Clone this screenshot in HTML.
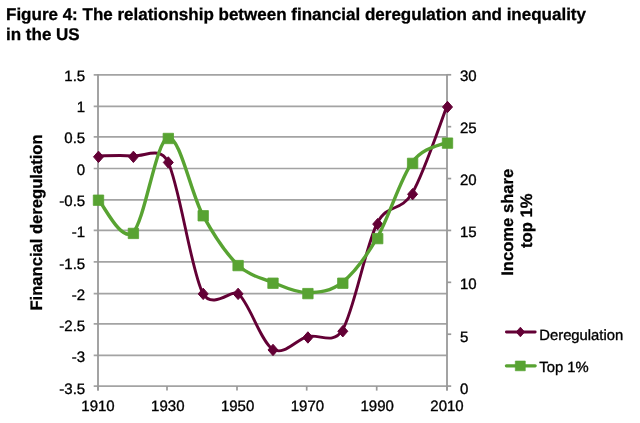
<!DOCTYPE html>
<html><head><meta charset="utf-8"><style>
html,body{margin:0;padding:0;background:#fff;width:640px;height:423px;overflow:hidden}
svg{display:block;text-rendering:geometricPrecision}
.t{font-family:"Liberation Sans",Arial,sans-serif;font-size:15px;fill:#000;stroke:#000;stroke-width:0.35px}
.b{font-family:"Liberation Sans",Arial,sans-serif;font-weight:bold;fill:#000;stroke:#000;stroke-width:0.3px}
.ti{font-size:17px}
.ax{font-size:16.6px}
</style></head><body>
<svg width="640" height="423" viewBox="0 0 640 423">
<rect width="640" height="423" fill="#fff"/>
<line x1="93.7" y1="74.80" x2="447" y2="74.80" stroke="#a3a3a3" stroke-width="1.7"/>
<line x1="93.7" y1="106.35" x2="447" y2="106.35" stroke="#a3a3a3" stroke-width="1.7"/>
<line x1="93.7" y1="136.80" x2="447" y2="136.80" stroke="#a3a3a3" stroke-width="1.7"/>
<line x1="93.7" y1="168.50" x2="447" y2="168.50" stroke="#a3a3a3" stroke-width="1.7"/>
<line x1="93.7" y1="199.80" x2="447" y2="199.80" stroke="#a3a3a3" stroke-width="1.7"/>
<line x1="93.7" y1="230.45" x2="447" y2="230.45" stroke="#a3a3a3" stroke-width="1.7"/>
<line x1="93.7" y1="261.95" x2="447" y2="261.95" stroke="#a3a3a3" stroke-width="1.7"/>
<line x1="93.7" y1="293.70" x2="447" y2="293.70" stroke="#a3a3a3" stroke-width="1.7"/>
<line x1="93.7" y1="323.80" x2="447" y2="323.80" stroke="#a3a3a3" stroke-width="1.7"/>
<line x1="93.7" y1="355.35" x2="447" y2="355.35" stroke="#a3a3a3" stroke-width="1.7"/>
<line x1="93.7" y1="386.10" x2="447" y2="386.10" stroke="#a3a3a3" stroke-width="1.7"/>
<line x1="447" y1="386.10" x2="451.2" y2="386.10" stroke="#999999" stroke-width="1.7"/>
<line x1="447" y1="334.22" x2="451.2" y2="334.22" stroke="#999999" stroke-width="1.7"/>
<line x1="447" y1="282.33" x2="451.2" y2="282.33" stroke="#999999" stroke-width="1.7"/>
<line x1="447" y1="230.45" x2="451.2" y2="230.45" stroke="#999999" stroke-width="1.7"/>
<line x1="447" y1="178.56" x2="451.2" y2="178.56" stroke="#999999" stroke-width="1.7"/>
<line x1="447" y1="126.68" x2="451.2" y2="126.68" stroke="#999999" stroke-width="1.7"/>
<line x1="447" y1="74.79" x2="451.2" y2="74.79" stroke="#999999" stroke-width="1.7"/>
<line x1="98.00" y1="386" x2="98.00" y2="390.6" stroke="#999999" stroke-width="1.7"/>
<line x1="167.00" y1="386" x2="167.00" y2="390.6" stroke="#999999" stroke-width="1.7"/>
<line x1="237.00" y1="386" x2="237.00" y2="390.6" stroke="#999999" stroke-width="1.7"/>
<line x1="306.70" y1="386" x2="306.70" y2="390.6" stroke="#999999" stroke-width="1.7"/>
<line x1="376.70" y1="386" x2="376.70" y2="390.6" stroke="#999999" stroke-width="1.7"/>
<line x1="447.00" y1="386" x2="447.00" y2="390.6" stroke="#999999" stroke-width="1.7"/>
<line x1="98" y1="74.2" x2="98" y2="390.6" stroke="#999999" stroke-width="1.8"/>
<line x1="447" y1="74.2" x2="447" y2="390.6" stroke="#999999" stroke-width="1.8"/>
<path d="M98.00,155.94 C103.82,155.94 121.27,155.01 132.90,155.94 C144.53,156.88 159.78,145.80 167.80,161.55 C179.43,184.39 191.07,271.07 202.70,292.98 C212.12,310.72 232.71,289.06 237.60,292.98 C249.23,302.32 260.87,341.77 272.50,349.04 C284.13,356.31 295.77,339.70 307.40,336.58 C319.03,333.47 333.01,345.45 342.30,330.35 C353.93,311.46 365.57,246.05 377.20,223.22 C387.63,202.74 400.47,212.83 412.10,193.32 C423.73,173.80 441.18,120.64 447.00,106.11" fill="none" stroke="#630035" stroke-width="2.9" stroke-linejoin="round" stroke-linecap="round"/>
<path d="M98.50,151.14 L103.50,156.84 L98.50,162.54 L93.50,156.84Z" fill="#630035" stroke="#630035" stroke-width="1" stroke-linejoin="round"/>
<path d="M133.40,151.14 L138.40,156.84 L133.40,162.54 L128.40,156.84Z" fill="#630035" stroke="#630035" stroke-width="1" stroke-linejoin="round"/>
<path d="M168.30,156.75 L173.30,162.45 L168.30,168.15 L163.30,162.45Z" fill="#630035" stroke="#630035" stroke-width="1" stroke-linejoin="round"/>
<path d="M203.20,288.18 L208.20,293.88 L203.20,299.58 L198.20,293.88Z" fill="#630035" stroke="#630035" stroke-width="1" stroke-linejoin="round"/>
<path d="M238.10,288.18 L243.10,293.88 L238.10,299.58 L233.10,293.88Z" fill="#630035" stroke="#630035" stroke-width="1" stroke-linejoin="round"/>
<path d="M273.00,344.24 L278.00,349.94 L273.00,355.64 L268.00,349.94Z" fill="#630035" stroke="#630035" stroke-width="1" stroke-linejoin="round"/>
<path d="M307.90,331.78 L312.90,337.48 L307.90,343.18 L302.90,337.48Z" fill="#630035" stroke="#630035" stroke-width="1" stroke-linejoin="round"/>
<path d="M342.80,325.55 L347.80,331.25 L342.80,336.95 L337.80,331.25Z" fill="#630035" stroke="#630035" stroke-width="1" stroke-linejoin="round"/>
<path d="M377.70,218.42 L382.70,224.12 L377.70,229.82 L372.70,224.12Z" fill="#630035" stroke="#630035" stroke-width="1" stroke-linejoin="round"/>
<path d="M412.60,188.52 L417.60,194.22 L412.60,199.92 L407.60,194.22Z" fill="#630035" stroke="#630035" stroke-width="1" stroke-linejoin="round"/>
<path d="M447.50,101.31 L452.50,107.01 L447.50,112.71 L442.50,107.01Z" fill="#630035" stroke="#630035" stroke-width="1" stroke-linejoin="round"/>
<path d="M98.00,199.31 C103.82,204.85 121.27,242.81 132.90,232.52 C144.53,222.23 156.17,140.51 167.80,137.57 C179.43,134.63 191.07,193.69 202.70,214.88 C214.33,236.07 225.97,253.45 237.60,264.69 C249.23,275.93 260.87,277.66 272.50,282.33 C284.13,287.00 295.77,292.71 307.40,292.71 C319.03,292.71 330.67,291.50 342.30,282.33 C353.93,273.16 365.57,257.68 377.20,237.71 C388.83,217.73 400.47,178.39 412.10,162.48 C423.73,146.56 441.18,145.61 447.00,142.24" fill="none" stroke="#58a332" stroke-width="3.4" stroke-linejoin="round" stroke-linecap="round"/>
<rect x="93.30" y="195.01" width="10.4" height="10.4" fill="#58a332" stroke="#58a332" stroke-width="0.8" stroke-linejoin="round"/>
<rect x="128.20" y="228.22" width="10.4" height="10.4" fill="#58a332" stroke="#58a332" stroke-width="0.8" stroke-linejoin="round"/>
<rect x="163.10" y="133.27" width="10.4" height="10.4" fill="#58a332" stroke="#58a332" stroke-width="0.8" stroke-linejoin="round"/>
<rect x="198.00" y="210.58" width="10.4" height="10.4" fill="#58a332" stroke="#58a332" stroke-width="0.8" stroke-linejoin="round"/>
<rect x="232.90" y="260.39" width="10.4" height="10.4" fill="#58a332" stroke="#58a332" stroke-width="0.8" stroke-linejoin="round"/>
<rect x="267.80" y="278.03" width="10.4" height="10.4" fill="#58a332" stroke="#58a332" stroke-width="0.8" stroke-linejoin="round"/>
<rect x="302.70" y="288.41" width="10.4" height="10.4" fill="#58a332" stroke="#58a332" stroke-width="0.8" stroke-linejoin="round"/>
<rect x="337.60" y="278.03" width="10.4" height="10.4" fill="#58a332" stroke="#58a332" stroke-width="0.8" stroke-linejoin="round"/>
<rect x="372.50" y="233.41" width="10.4" height="10.4" fill="#58a332" stroke="#58a332" stroke-width="0.8" stroke-linejoin="round"/>
<rect x="407.40" y="158.18" width="10.4" height="10.4" fill="#58a332" stroke="#58a332" stroke-width="0.8" stroke-linejoin="round"/>
<rect x="442.30" y="137.94" width="10.4" height="10.4" fill="#58a332" stroke="#58a332" stroke-width="0.8" stroke-linejoin="round"/>
<line x1="506.4" y1="332.0" x2="535.2" y2="332.0" stroke="#630035" stroke-width="2.9" stroke-linecap="round"/>
<path d="M520.40,327.20 L524.60,332.00 L520.40,336.80 L516.20,332.00Z" fill="#630035" stroke="#630035" stroke-width="0.9" stroke-linejoin="round"/>
<line x1="506.4" y1="365.8" x2="535.2" y2="365.8" stroke="#58a332" stroke-width="3.2" stroke-linecap="round"/>
<rect x="515.30" y="361.00" width="10.0" height="9.8" fill="#58a332" stroke="#58a332" stroke-width="0.6" stroke-linejoin="round"/>
<text x="85.2" y="80.97" text-anchor="end" class="t">1.5</text>
<text x="85.2" y="112.23" text-anchor="end" class="t">1</text>
<text x="85.2" y="143.49" text-anchor="end" class="t">0.5</text>
<text x="85.2" y="174.75" text-anchor="end" class="t">0</text>
<text x="85.2" y="206.01" text-anchor="end" class="t">-0.5</text>
<text x="85.2" y="237.27" text-anchor="end" class="t">-1</text>
<text x="85.2" y="268.53" text-anchor="end" class="t">-1.5</text>
<text x="85.2" y="299.79" text-anchor="end" class="t">-2</text>
<text x="85.2" y="331.05" text-anchor="end" class="t">-2.5</text>
<text x="85.2" y="362.31" text-anchor="end" class="t">-3</text>
<text x="85.2" y="393.57" text-anchor="end" class="t">-3.5</text>
<text x="460" y="80.67" class="t">30</text>
<text x="460" y="132.84" class="t">25</text>
<text x="460" y="185.00" class="t">20</text>
<text x="460" y="237.17" class="t">15</text>
<text x="460" y="289.34" class="t">10</text>
<text x="460" y="341.50" class="t">5</text>
<text x="460" y="393.67" class="t">0</text>
<text x="98.00" y="411.1" text-anchor="middle" class="t">1910</text>
<text x="167.80" y="411.1" text-anchor="middle" class="t">1930</text>
<text x="237.60" y="411.1" text-anchor="middle" class="t">1950</text>
<text x="307.40" y="411.1" text-anchor="middle" class="t">1970</text>
<text x="377.20" y="411.1" text-anchor="middle" class="t">1990</text>
<text x="447.00" y="411.1" text-anchor="middle" class="t">2010</text>
<text x="539.3" y="340.1" class="t" style="font-size:14.8px">Deregulation</text>
<text x="539.3" y="372" class="t" style="font-size:14.8px">Top 1%</text>
<text transform="translate(42.4,222.5) rotate(-90)" text-anchor="middle" class="b ax">Financial deregulation</text>
<text transform="translate(512.8,222.3) rotate(-90)" text-anchor="middle" class="b ax">Income share</text>
<text transform="translate(532.4,220.8) rotate(-90)" text-anchor="middle" class="b ax">top 1%</text>
<text x="6" y="19.5" class="b ti">Figure 4: The relationship between financial deregulation and inequality</text>
<text x="6" y="39.7" class="b ti">in the US</text>
</svg>
</body></html>
